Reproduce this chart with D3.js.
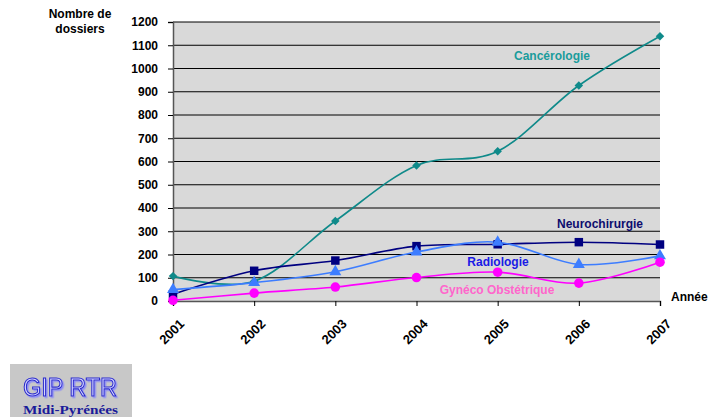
<!DOCTYPE html>
<html>
<head>
<meta charset="utf-8">
<script src="https://cdn.jsdelivr.net/npm/d3@7/dist/d3.min.js"></script>
<style>
  html, body { margin: 0; padding: 0; background: #ffffff; }
  svg { display: block; font-family: "Liberation Sans", Arial, sans-serif; }
</style>
</head>
<body>
<svg id="chart" width="708" height="417"></svg>
<script>
// Annual number of files per specialty
const years = [2001, 2002, 2003, 2004, 2005, 2006, 2007];
const cancerologie   = [107, 85, 344, 583, 644, 927, 1139];
const neurochirurgie = [29, 130, 174, 236, 244, 253, 243];
const radiologie     = [49, 79, 126, 211, 253, 157, 194];
const gyneco         = [3, 34, 60, 101, 124, 77, 167];
const yTicks = [0, 100, 200, 300, 400, 500, 600, 700, 800, 900, 1000, 1100, 1200];

const series = [
  { name: "Cancérologie", values: cancerologie, line: "#0f8a8a", marker: "diamond", labelColor: "#1a9c9c", lx: 552, ly: 60 },
  { name: "Neurochirurgie", values: neurochirurgie, line: "#000080", marker: "square", labelColor: "#0d0d6e", lx: 600, ly: 228 },
  { name: "Radiologie", values: radiologie, line: "#3d7dff", marker: "triangle", labelColor: "#1a1ae6", lx: 498, ly: 266 },
  { name: "Gynéco Obstétrique", values: gyneco, line: "#ff00ff", marker: "circle", labelColor: "#ff66cc", lx: 497, ly: 294 }
];

const svg = d3.select("#chart");
const plotLeft = 173, plotRight = 660, plotTop = 22, plotBottom = 301;

const x = d3.scaleLinear().domain([2001, 2007]).range([plotLeft, plotRight]);
const y = d3.scaleLinear().domain([0, 1200]).range([plotBottom, plotTop]);

// Drop shadow for the logo lettering
const defs = svg.append("defs");
defs.append("filter").attr("id", "logoShadow")
  .attr("x", "-10%").attr("y", "-20%").attr("width", "130%").attr("height", "150%")
  .append("feDropShadow")
  .attr("dx", 1.5).attr("dy", 1.5).attr("stdDeviation", 0.6)
  .attr("flood-color", "#8080ff").attr("flood-opacity", 0.8);

// Plot area background
svg.append("rect")
  .attr("x", plotLeft).attr("y", plotTop)
  .attr("width", plotRight - plotLeft).attr("height", plotBottom - plotTop)
  .attr("fill", "#d9d9d9");

// Horizontal gridlines
svg.append("g").selectAll("line")
  .data(yTicks.filter(d => d > 0))
  .join("line")
  .attr("x1", plotLeft).attr("x2", plotRight)
  .attr("y1", d => y(d)).attr("y2", d => y(d))
  .attr("stroke", "#000").attr("stroke-width", 1);

// Y axis
const yAxis = svg.append("g")
  .attr("transform", `translate(${plotLeft},0)`)
  .call(d3.axisLeft(y).tickValues(yTicks).tickSize(5).tickPadding(10).tickFormat(d3.format("d")));
yAxis.select(".domain").attr("stroke", "#555").attr("stroke-width", 1.5);
yAxis.selectAll(".tick line").attr("stroke", "#000");
yAxis.selectAll(".tick text")
  .attr("font-size", 12).attr("font-weight", "bold").attr("fill", "#000")
  .attr("font-family", "Liberation Sans, Arial, sans-serif");

// X axis
const xAxis = svg.append("g")
  .attr("transform", `translate(0,${plotBottom})`)
  .call(d3.axisBottom(x).tickValues(years).tickSize(5).tickFormat(d3.format("d")));
xAxis.select(".domain").attr("stroke", "#555").attr("stroke-width", 1.5);
xAxis.selectAll(".tick line").attr("stroke", "#000");
xAxis.selectAll(".tick text")
  .attr("font-size", 13).attr("font-weight", "bold").attr("fill", "#000")
  .attr("font-family", "Liberation Sans, Arial, sans-serif")
  .attr("text-anchor", "end")
  .attr("dy", 0)
  .attr("transform", "translate(6,18) rotate(-45)");

// Smoothed lines
const lineGen = d3.line()
  .x((d, i) => x(years[i]))
  .y(d => y(d))
  .curve(d3.curveCardinal.tension(0));

series.forEach(s => {
  svg.append("path")
    .datum(s.values)
    .attr("d", lineGen)
    .attr("fill", "none")
    .attr("stroke", s.line)
    .attr("stroke-width", 1.6);
});

// Markers
const symbolTypes = {
  diamond: d3.symbolSquare,
  square: d3.symbolSquare,
  triangle: d3.symbolTriangle,
  circle: d3.symbolCircle
};
const symbolSizes = { diamond: 36, square: 72, triangle: 62, circle: 72 };
const symbolRotate = { diamond: 45, square: 0, triangle: 0, circle: 0 };

series.forEach(s => {
  svg.append("g").selectAll("path")
    .data(s.values)
    .join("path")
    .attr("transform", (d, i) => `translate(${x(years[i])},${y(d)}) rotate(${symbolRotate[s.marker]})`)
    .attr("d", d3.symbol().type(symbolTypes[s.marker]).size(symbolSizes[s.marker]))
    .attr("fill", s.line);
});

// Series labels
series.forEach(s => {
  svg.append("text")
    .attr("x", s.lx).attr("y", s.ly)
    .attr("text-anchor", "middle")
    .attr("font-size", 12).attr("font-weight", "bold")
    .attr("fill", s.labelColor)
    .text(s.name);
});

// Axis titles
const yTitle = svg.append("text")
  .attr("text-anchor", "middle")
  .attr("font-size", 12).attr("font-weight", "bold").attr("fill", "#000");
yTitle.append("tspan").attr("x", 80).attr("y", 18).text("Nombre de");
yTitle.append("tspan").attr("x", 80).attr("y", 33).text("dossiers");

svg.append("text")
  .attr("x", 671).attr("y", 301)
  .attr("font-size", 12).attr("font-weight", "bold").attr("fill", "#000")
  .text("Année");

// Logo block
const logo = svg.append("g");
logo.append("rect")
  .attr("x", 10).attr("y", 364).attr("width", 122).attr("height", 53)
  .attr("fill", "#c8c8c8");
logo.append("text")
  .attr("x", 23).attr("y", 396)
  .attr("font-family", "Liberation Sans, Arial, sans-serif")
  .attr("font-size", 26)
  .attr("textLength", 94).attr("lengthAdjust", "spacingAndGlyphs")
  .attr("fill", "#d6d6ff")
  .attr("stroke", "#2a2acc")
  .attr("stroke-width", 1.1)
  .attr("filter", "url(#logoShadow)")
  .text("GIP RTR");
logo.append("text")
  .attr("x", 23).attr("y", 414)
  .attr("font-family", "Liberation Serif, Times New Roman, serif")
  .attr("font-size", 12).attr("font-weight", "bold")
  .attr("textLength", 95).attr("lengthAdjust", "spacingAndGlyphs")
  .attr("fill", "#1a1a99")
  .text("Midi-Pyrénées");
</script>
</body>
</html>
